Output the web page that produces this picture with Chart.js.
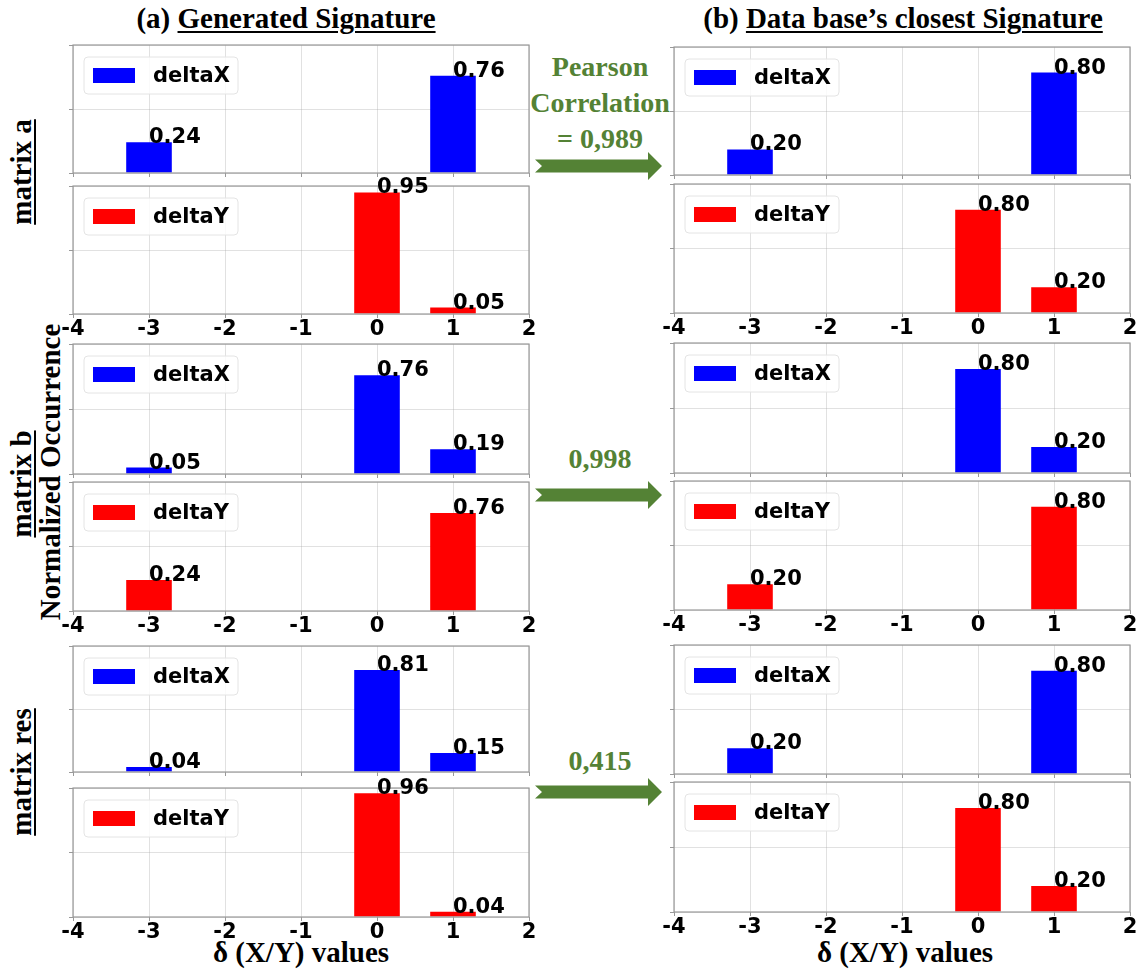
<!DOCTYPE html>
<html>
<head>
<meta charset="utf-8">
<script src="https://cdn.jsdelivr.net/npm/chart.js@4.4.1/dist/chart.umd.min.js"></script>
<style>
  body { margin: 0; background: #fff; }
  #fig { position: relative; width: 1139px; height: 972px; overflow: hidden; }
  #fig canvas { position: absolute; }
  .txt { position: absolute; font-family: "Liberation Serif", "Times New Roman", serif; font-weight: bold;
         font-size: 29px; line-height: 28px; white-space: nowrap; color: #000; }
  .cx { transform: translateX(-50%); text-align: center; }
  .rot { transform: translate(-50%, -50%) rotate(-90deg); }
  .ul { text-decoration: underline; text-decoration-thickness: 2px; text-underline-offset: 3px; }
  .green { color: #548235; font-size: 28px; line-height: 36px; }
</style>
</head>
<body>
<div id="fig">
  <div class="txt cx" style="left:286px; top:4px;">(a) <span class="ul">Generated Signature</span></div>
  <div class="txt cx" style="left:903px; top:4px;">(b) <span class="ul">Data base’s closest Signature</span></div>

  <div class="txt rot ul" style="left:21px; top:172px;">matrix a</div>
  <div class="txt rot ul" style="left:21px; top:484px;">matrix b</div>
  <div class="txt rot ul" style="left:21px; top:772px;">matrix res</div>
  <div class="txt rot" style="left:50px; top:472px;">Normalized Occurrence</div>

  <div class="txt cx" style="left:301px; top:938px;">δ (X/Y) values</div>
  <div class="txt cx" style="left:905px; top:938px;">δ (X/Y) values</div>

  <div id="corr1" class="txt cx green" style="left:600px; top:49px;"></div>
  <div id="corr2" class="txt cx green" style="left:600px; top:441px;"></div>
  <div id="corr3" class="txt cx green" style="left:600px; top:743px;"></div>

  <svg width="1139" height="972" style="position:absolute; left:0; top:0; pointer-events:none;">
    <g fill="#548235">
      <polygon points="535,159.5 648,159.5 648,152 662,166 648,180 648,172.5 535,172.5 542,166"/>
      <polygon points="535,488.5 648,488.5 648,481 662,495 648,509 648,501.5 535,501.5 542,495"/>
      <polygon points="535,785.5 648,785.5 648,778 662,792 648,806 648,798.5 535,798.5 542,792"/>
    </g>
  </svg>
</div>

<script>
// x categories (δ values)
const deltaLabels = ['-4', '-3', '-2', '-1', '0', '1', '2'];

// (a) generated signature
const genA_dx   = [0, 0.24, 0, 0, 0,    0.76, 0];
const genA_dy   = [0, 0,    0, 0, 0.95, 0.05, 0];
const genB_dx   = [0, 0.05, 0, 0, 0.76, 0.19, 0];
const genB_dy   = [0, 0.24, 0, 0, 0,    0.76, 0];
const genRes_dx = [0, 0.04, 0, 0, 0.81, 0.15, 0];
const genRes_dy = [0, 0,    0, 0, 0.96, 0.04, 0];

// (b) data base's closest signature
const dbA_dx   = [0, 0.20, 0, 0, 0,    0.80, 0];
const dbA_dy   = [0, 0,    0, 0, 0.80, 0.20, 0];
const dbB_dx   = [0, 0,    0, 0, 0.80, 0.20, 0];
const dbB_dy   = [0, 0.20, 0, 0, 0,    0.80, 0];
const dbRes_dx = [0, 0.20, 0, 0, 0,    0.80, 0];
const dbRes_dy = [0, 0,    0, 0, 0.80, 0.20, 0];

// pearson correlation between (a) and (b)
const pearson = ['0,989', '0,998', '0,415'];

document.getElementById('corr1').innerHTML = 'Pearson<br>Correlation<br>= ' + pearson[0];
document.getElementById('corr2').textContent = pearson[1];
document.getElementById('corr3').textContent = pearson[2];

const PAD_L = 30, PAD_R = 30, PAD_T = 40, PAD_B = 40;
const tickFont = { family: 'DejaVu Sans', weight: 'bold', size: 21 };

// frame, value labels and legend box
const panelDeco = {
  id: 'panelDeco',
  afterDraw(chart) {
    const { ctx, chartArea: a } = chart;
    const ds = chart.data.datasets[0];
    const meta = chart.getDatasetMeta(0);
    ctx.save();
    // frame
    ctx.strokeStyle = '#999';
    ctx.lineWidth = 1.2;
    ctx.strokeRect(a.left, a.top, a.right - a.left, a.bottom - a.top);
    // value labels
    ctx.fillStyle = '#000';
    ctx.font = 'bold 21px "DejaVu Sans"';
    ctx.textAlign = 'left';
    ctx.textBaseline = 'alphabetic';
    meta.data.forEach((bar, i) => {
      const v = ds.data[i];
      if (v > 0) ctx.fillText(v.toFixed(2), bar.x, bar.y + 1);
    });
    // legend
    const bx = a.left + 11, by = a.top + 12, bw = 154, bh = 37;
    ctx.beginPath();
    ctx.roundRect(bx, by, bw, bh, 4);
    ctx.fillStyle = 'rgba(255,255,255,0.85)';
    ctx.fill();
    ctx.strokeStyle = '#e4e4e4';
    ctx.lineWidth = 1;
    ctx.stroke();
    ctx.fillStyle = ds.backgroundColor;
    ctx.fillRect(a.left + 20, by + bh / 2 - 7.5, 42, 15);
    ctx.fillStyle = '#000';
    ctx.font = 'bold 21px "DejaVu Sans"';
    ctx.textBaseline = 'middle';
    ctx.fillText(ds.label, a.left + 80, by + bh / 2 + 1);
    ctx.restore();
  }
};

function makePanel(x, top, bottom, values, name, color, showTicks) {
  const w = 456, h = bottom - top;
  const cv = document.createElement('canvas');
  cv.width = w + PAD_L + PAD_R;
  cv.height = h + PAD_T + PAD_B;
  cv.style.left = (x - PAD_L) + 'px';
  cv.style.top = (top - PAD_T) + 'px';
  document.getElementById('fig').appendChild(cv);

  new Chart(cv.getContext('2d'), {
    type: 'bar',
    data: {
      labels: deltaLabels,
      datasets: [{
        label: name,
        data: values,
        backgroundColor: color,
        borderWidth: 0,
        barPercentage: 0.6,
        categoryPercentage: 1.0
      }]
    },
    options: {
      responsive: false,
      animation: false,
      devicePixelRatio: 1,
      layout: { padding: { left: PAD_L, right: PAD_R, top: PAD_T, bottom: 0 } },
      plugins: { legend: { display: false }, tooltip: { enabled: false } },
      scales: {
        x: {
          offset: false,
          z: 1,
          grid: { offset: false, color: 'rgba(170,170,170,0.35)', tickColor: '#999', tickLength: 4 },
          border: { display: false },
          ticks: { display: showTicks, color: '#000', font: tickFont, padding: -1, maxRotation: 0, autoSkip: false },
          afterFit(axis) { axis.height = PAD_B; }
        },
        y: {
          min: 0,
          max: 1,
          z: 1,
          grid: { color: 'rgba(170,170,170,0.35)', tickColor: '#999', tickLength: 4 },
          border: { display: false },
          ticks: { display: false, stepSize: 0.5 },
          afterFit(axis) { axis.width = 0; }
        }
      }
    },
    plugins: [panelDeco]
  });
}

const BLUE = '#0000ff', RED = '#ff0000';
const LX = 73, RX = 674;

makePanel(LX, 45, 173, genA_dx, 'deltaX', BLUE, false);
makePanel(LX, 186, 314, genA_dy, 'deltaY', RED, true);
makePanel(LX, 344, 474, genB_dx, 'deltaX', BLUE, false);
makePanel(LX, 482, 611, genB_dy, 'deltaY', RED, true);
makePanel(LX, 646, 772, genRes_dx, 'deltaX', BLUE, false);
makePanel(LX, 788, 917, genRes_dy, 'deltaY', RED, true);

makePanel(RX, 47, 175, dbA_dx, 'deltaX', BLUE, false);
makePanel(RX, 184, 313, dbA_dy, 'deltaY', RED, true);
makePanel(RX, 343, 473, dbB_dx, 'deltaX', BLUE, false);
makePanel(RX, 481, 610, dbB_dy, 'deltaY', RED, true);
makePanel(RX, 645, 774, dbRes_dx, 'deltaX', BLUE, false);
makePanel(RX, 782, 912, dbRes_dy, 'deltaY', RED, true);
</script>
</body>
</html>
